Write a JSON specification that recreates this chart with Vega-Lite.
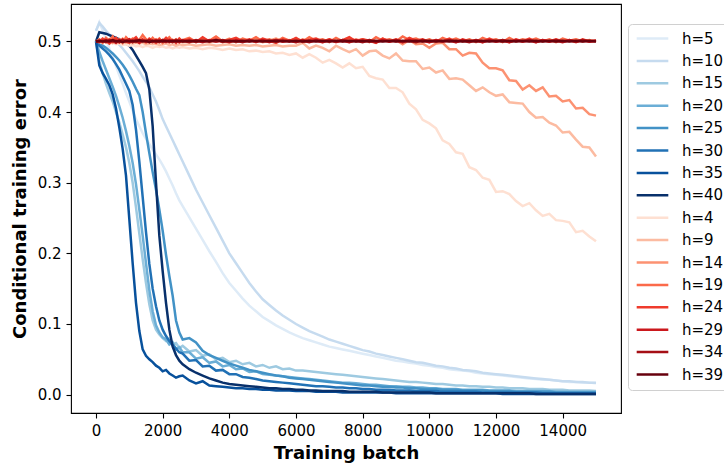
{
"$schema": "https://vega.github.io/schema/vega-lite/v6.json",
"width": 550, "height": 409,
"autosize": {"type": "none"},
"padding": {"left": 71, "top": 4, "right": 103, "bottom": 52},
"background": "white",
"data": {"values": [
{"x":0,"b05":0.515,"b10":0.515,"b15":0.5,"b20":0.5,"b25":0.5,"b30":0.5,"b35":0.5,"b40":0.5,"r04":0.5,"r09":0.5,"r14":0.5,"r19":0.5,"r24":0.5,"r29":0.5,"r34":0.5,"r39":0.5},
{"x":100,"b05":0.527,"b10":0.526,"b15":0.472,"b20":0.485,"b25":0.497,"b30":0.494,"b35":0.466,"b40":0.513,"r04":0.499,"r09":0.5,"r14":0.501,"r19":0.503,"r24":0.499,"r29":0.501,"r34":0.5,"r39":0.501},
{"x":200,"b05":0.516,"b10":0.521,"b15":0.455,"b20":0.472,"b25":0.494,"b30":0.49,"b35":0.455,"b40":0.512,"r04":0.498,"r09":0.499,"r14":0.502,"r19":0.498,"r24":0.504,"r29":0.5,"r34":0.501,"r39":0.5},
{"x":300,"b05":0.503,"b10":0.515,"b15":0.44,"b20":0.46,"b25":0.491,"b30":0.486,"b35":0.447,"b40":0.511,"r04":0.499,"r09":0.501,"r14":0.499,"r19":0.505,"r24":0.501,"r29":0.502,"r34":0.499,"r39":0.501},
{"x":400,"b05":0.49,"b10":0.51,"b15":0.427,"b20":0.448,"b25":0.487,"b30":0.481,"b35":0.438,"b40":0.509,"r04":0.497,"r09":0.5,"r14":0.503,"r19":0.501,"r24":0.497,"r29":0.499,"r34":0.502,"r39":0.5},
{"x":500,"b05":0.478,"b10":0.505,"b15":0.415,"b20":0.436,"b25":0.483,"b30":0.475,"b35":0.425,"b40":0.507,"r04":0.498,"r09":0.499,"r14":0.498,"r19":0.507,"r24":0.502,"r29":0.501,"r34":0.5,"r39":0.502},
{"x":600,"b05":0.465,"b10":0.5,"b15":0.4,"b20":0.423,"b25":0.478,"b30":0.468,"b35":0.405,"b40":0.505,"r04":0.496,"r09":0.5,"r14":0.501,"r19":0.499,"r24":0.505,"r29":0.498,"r34":0.501,"r39":0.5},
{"x":700,"b05":0.452,"b10":0.495,"b15":0.385,"b20":0.408,"b25":0.473,"b30":0.46,"b35":0.378,"b40":0.503,"r04":0.497,"r09":0.498,"r14":0.5,"r19":0.503,"r24":0.499,"r29":0.502,"r34":0.499,"r39":0.501},
{"x":800,"b05":0.44,"b10":0.49,"b15":0.368,"b20":0.392,"b25":0.467,"b30":0.45,"b35":0.348,"b40":0.5,"r04":0.495,"r09":0.499,"r14":0.504,"r19":0.498,"r24":0.503,"r29":0.5,"r34":0.502,"r39":0.499},
{"x":900,"b05":0.427,"b10":0.484,"b15":0.35,"b20":0.373,"b25":0.46,"b30":0.44,"b35":0.31,"b40":0.497,"r04":0.496,"r09":0.498,"r14":0.499,"r19":0.506,"r24":0.5,"r29":0.501,"r34":0.5,"r39":0.501},
{"x":1000,"b05":0.415,"b10":0.478,"b15":0.328,"b20":0.352,"b25":0.452,"b30":0.43,"b35":0.248,"b40":0.494,"r04":0.494,"r09":0.499,"r14":0.502,"r19":0.501,"r24":0.498,"r29":0.503,"r34":0.501,"r39":0.5},
{"x":1100,"b05":0.402,"b10":0.472,"b15":0.3,"b20":0.328,"b25":0.443,"b30":0.41,"b35":0.186,"b40":0.488,"r04":0.495,"r09":0.497,"r14":0.5,"r19":0.504,"r24":0.502,"r29":0.499,"r34":0.499,"r39":0.501},
{"x":1200,"b05":0.39,"b10":0.465,"b15":0.265,"b20":0.298,"b25":0.433,"b30":0.375,"b35":0.13,"b40":0.48,"r04":0.493,"r09":0.498,"r14":0.503,"r19":0.499,"r24":0.506,"r29":0.501,"r34":0.502,"r39":0.5},
{"x":1300,"b05":0.38,"b10":0.458,"b15":0.228,"b20":0.262,"b25":0.424,"b30":0.33,"b35":0.09,"b40":0.472,"r04":0.494,"r09":0.497,"r14":0.499,"r19":0.502,"r24":0.5,"r29":0.498,"r34":0.5,"r39":0.502},
{"x":1400,"b05":0.37,"b10":0.45,"b15":0.192,"b20":0.225,"b25":0.4,"b30":0.28,"b35":0.064,"b40":0.464,"r04":0.492,"r09":0.498,"r14":0.501,"r19":0.509,"r24":0.503,"r29":0.502,"r34":0.501,"r39":0.5},
{"x":1500,"b05":0.362,"b10":0.443,"b15":0.158,"b20":0.186,"b25":0.37,"b30":0.23,"b35":0.055,"b40":0.455,"r04":0.494,"r09":0.496,"r14":0.498,"r19":0.503,"r24":0.499,"r29":0.5,"r34":0.5,"r39":0.501},
{"x":1600,"b05":0.355,"b10":0.435,"b15":0.128,"b20":0.148,"b25":0.342,"b30":0.185,"b35":0.05,"b40":0.432,"r04":0.493,"r09":0.497,"r14":0.502,"r19":0.499,"r24":0.504,"r29":0.501,"r34":0.502,"r39":0.499},
{"x":1700,"b05":0.347,"b10":0.425,"b15":0.105,"b20":0.118,"b25":0.315,"b30":0.15,"b35":0.046,"b40":0.38,"r04":0.491,"r09":0.496,"r14":0.5,"r19":0.505,"r24":0.501,"r29":0.499,"r34":0.5,"r39":0.501},
{"x":1800,"b05":0.34,"b10":0.415,"b15":0.092,"b20":0.098,"b25":0.29,"b30":0.125,"b35":0.041,"b40":0.3,"r04":0.493,"r09":0.497,"r14":0.503,"r19":0.5,"r24":0.498,"r29":0.502,"r34":0.501,"r39":0.5},
{"x":1900,"b05":0.333,"b10":0.403,"b15":0.085,"b20":0.088,"b25":0.262,"b30":0.105,"b35":0.038,"b40":0.225,"r04":0.492,"r09":0.495,"r14":0.499,"r19":0.504,"r24":0.503,"r29":0.5,"r34":0.499,"r39":0.501},
{"x":2000,"b05":0.325,"b10":0.39,"b15":0.08,"b20":0.081,"b25":0.232,"b30":0.092,"b35":0.033,"b40":0.175,"r04":0.493,"r09":0.496,"r14":0.501,"r19":0.498,"r24":0.5,"r29":0.501,"r34":0.502,"r39":0.5},
{"x":2100,"b05":0.316,"b10":0.38,"b15":0.076,"b20":0.078,"b25":0.198,"b30":0.083,"b35":0.035,"b40":0.13,"r04":0.491,"r09":0.497,"r14":0.504,"r19":0.502,"r24":0.505,"r29":0.499,"r34":0.5,"r39":0.501},
{"x":2200,"b05":0.306,"b10":0.37,"b15":0.079,"b20":0.071,"b25":0.168,"b30":0.076,"b35":0.03,"b40":0.092,"r04":0.492,"r09":0.495,"r14":0.499,"r19":0.506,"r24":0.499,"r29":0.502,"r34":0.501,"r39":0.5},
{"x":2300,"b05":0.296,"b10":0.36,"b15":0.071,"b20":0.074,"b25":0.14,"b30":0.07,"b35":0.027,"b40":0.068,"r04":0.49,"r09":0.496,"r14":0.502,"r19":0.5,"r24":0.502,"r29":0.5,"r34":0.499,"r39":0.501},
{"x":2400,"b05":0.285,"b10":0.35,"b15":0.073,"b20":0.064,"b25":0.105,"b30":0.065,"b35":0.024,"b40":0.056,"r04":0.492,"r09":0.494,"r14":0.5,"r19":0.503,"r24":0.498,"r29":0.501,"r34":0.502,"r39":0.5},
{"x":2500,"b05":0.275,"b10":0.34,"b15":0.066,"b20":0.067,"b25":0.088,"b30":0.06,"b35":0.026,"b40":0.048,"r04":0.491,"r09":0.496,"r14":0.503,"r19":0.499,"r24":0.504,"r29":0.499,"r34":0.5,"r39":0.501},
{"x":2600,"b05":0.267,"b10":0.33,"b15":0.069,"b20":0.06,"b25":0.078,"b30":0.058,"b35":0.027,"b40":0.043,"r04":0.492,"r09":0.495,"r14":0.499,"r19":0.502,"r24":0.5,"r29":0.502,"r34":0.501,"r39":0.5},
{"x":2800,"b05":0.251,"b10":0.31,"b15":0.061,"b20":0.06,"b25":0.08,"b30":0.048,"b35":0.02,"b40":0.036,"r04":0.49,"r09":0.496,"r14":0.501,"r19":0.505,"r24":0.503,"r29":0.5,"r34":0.499,"r39":0.501},
{"x":3000,"b05":0.235,"b10":0.29,"b15":0.063,"b20":0.051,"b25":0.074,"b30":0.049,"b35":0.016,"b40":0.031,"r04":0.491,"r09":0.494,"r14":0.5,"r19":0.499,"r24":0.499,"r29":0.501,"r34":0.502,"r39":0.5},
{"x":3200,"b05":0.219,"b10":0.272,"b15":0.055,"b20":0.053,"b25":0.062,"b30":0.04,"b35":0.019,"b40":0.027,"r04":0.489,"r09":0.495,"r14":0.503,"r19":0.503,"r24":0.506,"r29":0.499,"r34":0.5,"r39":0.501},
{"x":3400,"b05":0.203,"b10":0.254,"b15":0.057,"b20":0.045,"b25":0.056,"b30":0.041,"b35":0.013,"b40":0.023,"r04":0.491,"r09":0.496,"r14":0.499,"r19":0.501,"r24":0.5,"r29":0.502,"r34":0.501,"r39":0.5},
{"x":3600,"b05":0.188,"b10":0.236,"b15":0.05,"b20":0.047,"b25":0.052,"b30":0.034,"b35":0.012,"b40":0.02,"r04":0.49,"r09":0.494,"r14":0.502,"r19":0.507,"r24":0.503,"r29":0.5,"r34":0.5,"r39":0.502},
{"x":3800,"b05":0.172,"b10":0.218,"b15":0.052,"b20":0.04,"b25":0.048,"b30":0.035,"b35":0.011,"b40":0.017,"r04":0.488,"r09":0.495,"r14":0.5,"r19":0.5,"r24":0.499,"r29":0.501,"r34":0.502,"r39":0.5},
{"x":4000,"b05":0.158,"b10":0.2,"b15":0.046,"b20":0.042,"b25":0.044,"b30":0.029,"b35":0.01,"b40":0.015,"r04":0.49,"r09":0.496,"r14":0.504,"r19":0.503,"r24":0.502,"r29":0.499,"r34":0.5,"r39":0.501},
{"x":4200,"b05":0.147,"b10":0.186,"b15":0.048,"b20":0.036,"b25":0.041,"b30":0.029,"b35":0.009,"b40":0.014,"r04":0.488,"r09":0.494,"r14":0.499,"r19":0.499,"r24":0.505,"r29":0.502,"r34":0.501,"r39":0.5},
{"x":4400,"b05":0.136,"b10":0.172,"b15":0.043,"b20":0.037,"b25":0.038,"b30":0.025,"b35":0.009,"b40":0.013,"r04":0.489,"r09":0.495,"r14":0.502,"r19":0.504,"r24":0.5,"r29":0.5,"r34":0.499,"r39":0.501},
{"x":4600,"b05":0.126,"b10":0.158,"b15":0.045,"b20":0.032,"b25":0.035,"b30":0.024,"b35":0.008,"b40":0.012,"r04":0.486,"r09":0.494,"r14":0.5,"r19":0.501,"r24":0.503,"r29":0.501,"r34":0.502,"r39":0.5},
{"x":4800,"b05":0.118,"b10":0.146,"b15":0.04,"b20":0.033,"b25":0.033,"b30":0.022,"b35":0.008,"b40":0.011,"r04":0.487,"r09":0.495,"r14":0.503,"r19":0.506,"r24":0.499,"r29":0.5,"r34":0.5,"r39":0.501},
{"x":5000,"b05":0.11,"b10":0.135,"b15":0.042,"b20":0.029,"b25":0.031,"b30":0.02,"b35":0.007,"b40":0.01,"r04":0.485,"r09":0.493,"r14":0.499,"r19":0.5,"r24":0.504,"r29":0.502,"r34":0.501,"r39":0.5},
{"x":5200,"b05":0.104,"b10":0.127,"b15":0.038,"b20":0.028,"b25":0.029,"b30":0.019,"b35":0.007,"b40":0.009,"r04":0.486,"r09":0.494,"r14":0.501,"r19":0.503,"r24":0.501,"r29":0.499,"r34":0.5,"r39":0.501},
{"x":5400,"b05":0.098,"b10":0.119,"b15":0.04,"b20":0.027,"b25":0.027,"b30":0.018,"b35":0.006,"b40":0.009,"r04":0.483,"r09":0.495,"r14":0.504,"r19":0.499,"r24":0.498,"r29":0.502,"r34":0.502,"r39":0.5},
{"x":5600,"b05":0.093,"b10":0.112,"b15":0.036,"b20":0.026,"b25":0.026,"b30":0.017,"b35":0.006,"b40":0.008,"r04":0.484,"r09":0.493,"r14":0.5,"r19":0.505,"r24":0.503,"r29":0.5,"r34":0.5,"r39":0.501},
{"x":5800,"b05":0.088,"b10":0.106,"b15":0.037,"b20":0.025,"b25":0.024,"b30":0.016,"b35":0.006,"b40":0.008,"r04":0.481,"r09":0.494,"r14":0.502,"r19":0.501,"r24":0.5,"r29":0.501,"r34":0.501,"r39":0.5},
{"x":6000,"b05":0.084,"b10":0.1,"b15":0.034,"b20":0.024,"b25":0.023,"b30":0.015,"b35":0.005,"b40":0.007,"r04":0.483,"r09":0.494,"r14":0.499,"r19":0.504,"r24":0.505,"r29":0.499,"r34":0.5,"r39":0.501},
{"x":6200,"b05":0.08,"b10":0.095,"b15":0.034,"b20":0.023,"b25":0.022,"b30":0.014,"b35":0.005,"b40":0.007,"r04":0.477,"r09":0.498,"r14":0.503,"r19":0.5,"r24":0.499,"r29":0.502,"r34":0.501,"r39":0.5},
{"x":6400,"b05":0.077,"b10":0.09,"b15":0.033,"b20":0.022,"b25":0.021,"b30":0.013,"b35":0.005,"b40":0.006,"r04":0.482,"r09":0.49,"r14":0.5,"r19":0.506,"r24":0.502,"r29":0.5,"r34":0.499,"r39":0.501},
{"x":6600,"b05":0.074,"b10":0.086,"b15":0.032,"b20":0.021,"b25":0.02,"b30":0.012,"b35":0.004,"b40":0.006,"r04":0.477,"r09":0.494,"r14":0.502,"r19":0.501,"r24":0.504,"r29":0.501,"r34":0.502,"r39":0.5},
{"x":6800,"b05":0.071,"b10":0.082,"b15":0.031,"b20":0.02,"b25":0.019,"b30":0.012,"b35":0.004,"b40":0.005,"r04":0.47,"r09":0.491,"r14":0.499,"r19":0.503,"r24":0.5,"r29":0.499,"r34":0.5,"r39":0.501},
{"x":7000,"b05":0.068,"b10":0.078,"b15":0.03,"b20":0.019,"b25":0.018,"b30":0.011,"b35":0.004,"b40":0.005,"r04":0.474,"r09":0.486,"r14":0.503,"r19":0.499,"r24":0.503,"r29":0.502,"r34":0.501,"r39":0.5},
{"x":7200,"b05":0.066,"b10":0.075,"b15":0.029,"b20":0.018,"b25":0.017,"b30":0.01,"b35":0.004,"b40":0.005,"r04":0.469,"r09":0.494,"r14":0.5,"r19":0.505,"r24":0.499,"r29":0.5,"r34":0.5,"r39":0.501},
{"x":7400,"b05":0.064,"b10":0.072,"b15":0.028,"b20":0.017,"b25":0.016,"b30":0.01,"b35":0.003,"b40":0.005,"r04":0.463,"r09":0.489,"r14":0.502,"r19":0.5,"r24":0.502,"r29":0.501,"r34":0.502,"r39":0.5},
{"x":7600,"b05":0.062,"b10":0.069,"b15":0.027,"b20":0.017,"b25":0.015,"b30":0.009,"b35":0.003,"b40":0.004,"r04":0.469,"r09":0.485,"r14":0.499,"r19":0.504,"r24":0.506,"r29":0.499,"r34":0.5,"r39":0.501},
{"x":7800,"b05":0.06,"b10":0.066,"b15":0.026,"b20":0.016,"b25":0.014,"b30":0.009,"b35":0.003,"b40":0.004,"r04":0.462,"r09":0.489,"r14":0.503,"r19":0.501,"r24":0.5,"r29":0.502,"r34":0.501,"r39":0.5},
{"x":8000,"b05":0.058,"b10":0.063,"b15":0.025,"b20":0.015,"b25":0.013,"b30":0.008,"b35":0.003,"b40":0.004,"r04":0.464,"r09":0.48,"r14":0.5,"r19":0.503,"r24":0.503,"r29":0.5,"r34":0.499,"r39":0.501},
{"x":8200,"b05":0.056,"b10":0.061,"b15":0.024,"b20":0.014,"b25":0.013,"b30":0.008,"b35":0.003,"b40":0.004,"r04":0.451,"r09":0.486,"r14":0.502,"r19":0.499,"r24":0.501,"r29":0.501,"r34":0.502,"r39":0.5},
{"x":8400,"b05":0.054,"b10":0.058,"b15":0.023,"b20":0.014,"b25":0.012,"b30":0.007,"b35":0.003,"b40":0.004,"r04":0.448,"r09":0.487,"r14":0.499,"r19":0.506,"r24":0.498,"r29":0.499,"r34":0.5,"r39":0.501},
{"x":8600,"b05":0.052,"b10":0.056,"b15":0.022,"b20":0.013,"b25":0.011,"b30":0.007,"b35":0.003,"b40":0.003,"r04":0.446,"r09":0.48,"r14":0.504,"r19":0.501,"r24":0.504,"r29":0.502,"r34":0.501,"r39":0.5},
{"x":8800,"b05":0.05,"b10":0.054,"b15":0.021,"b20":0.012,"b25":0.011,"b30":0.007,"b35":0.003,"b40":0.003,"r04":0.434,"r09":0.476,"r14":0.5,"r19":0.503,"r24":0.5,"r29":0.5,"r34":0.5,"r39":0.501},
{"x":9000,"b05":0.048,"b10":0.052,"b15":0.02,"b20":0.012,"b25":0.01,"b30":0.006,"b35":0.002,"b40":0.003,"r04":0.434,"r09":0.483,"r14":0.502,"r19":0.5,"r24":0.503,"r29":0.501,"r34":0.502,"r39":0.5},
{"x":9200,"b05":0.047,"b10":0.05,"b15":0.019,"b20":0.011,"b25":0.01,"b30":0.006,"b35":0.002,"b40":0.003,"r04":0.428,"r09":0.473,"r14":0.496,"r19":0.507,"r24":0.499,"r29":0.499,"r34":0.5,"r39":0.501},
{"x":9400,"b05":0.045,"b10":0.048,"b15":0.018,"b20":0.011,"b25":0.009,"b30":0.006,"b35":0.002,"b40":0.003,"r04":0.412,"r09":0.472,"r14":0.502,"r19":0.502,"r24":0.505,"r29":0.502,"r34":0.501,"r39":0.5},
{"x":9600,"b05":0.044,"b10":0.046,"b15":0.018,"b20":0.01,"b25":0.009,"b30":0.005,"b35":0.002,"b40":0.003,"r04":0.404,"r09":0.472,"r14":0.496,"r19":0.504,"r24":0.501,"r29":0.5,"r34":0.499,"r39":0.501},
{"x":9800,"b05":0.042,"b10":0.045,"b15":0.017,"b20":0.01,"b25":0.008,"b30":0.005,"b35":0.002,"b40":0.003,"r04":0.389,"r09":0.461,"r14":0.497,"r19":0.5,"r24":0.503,"r29":0.501,"r34":0.502,"r39":0.5},
{"x":10000,"b05":0.041,"b10":0.043,"b15":0.016,"b20":0.009,"b25":0.008,"b30":0.005,"b35":0.002,"b40":0.003,"r04":0.384,"r09":0.463,"r14":0.491,"r19":0.503,"r24":0.499,"r29":0.499,"r34":0.5,"r39":0.501},
{"x":10200,"b05":0.039,"b10":0.041,"b15":0.015,"b20":0.009,"b25":0.008,"b30":0.005,"b35":0.002,"b40":0.002,"r04":0.377,"r09":0.456,"r14":0.497,"r19":0.499,"r24":0.502,"r29":0.502,"r34":0.501,"r39":0.5},
{"x":10400,"b05":0.038,"b10":0.04,"b15":0.015,"b20":0.008,"b25":0.007,"b30":0.004,"b35":0.002,"b40":0.002,"r04":0.36,"r09":0.459,"r14":0.498,"r19":0.505,"r24":0.5,"r29":0.5,"r34":0.5,"r39":0.501},
{"x":10600,"b05":0.036,"b10":0.038,"b15":0.014,"b20":0.008,"b25":0.007,"b30":0.004,"b35":0.002,"b40":0.002,"r04":0.355,"r09":0.447,"r14":0.489,"r19":0.501,"r24":0.504,"r29":0.501,"r34":0.502,"r39":0.5},
{"x":10800,"b05":0.035,"b10":0.037,"b15":0.013,"b20":0.008,"b25":0.007,"b30":0.004,"b35":0.002,"b40":0.002,"r04":0.343,"r09":0.448,"r14":0.489,"r19":0.504,"r24":0.499,"r29":0.499,"r34":0.5,"r39":0.501},
{"x":11000,"b05":0.034,"b10":0.035,"b15":0.013,"b20":0.007,"b25":0.006,"b30":0.004,"b35":0.002,"b40":0.002,"r04":0.341,"r09":0.446,"r14":0.48,"r19":0.5,"r24":0.503,"r29":0.502,"r34":0.501,"r39":0.5},
{"x":11200,"b05":0.033,"b10":0.034,"b15":0.012,"b20":0.007,"b25":0.006,"b30":0.004,"b35":0.002,"b40":0.002,"r04":0.322,"r09":0.438,"r14":0.484,"r19":0.503,"r24":0.5,"r29":0.5,"r34":0.499,"r39":0.501},
{"x":11400,"b05":0.031,"b10":0.033,"b15":0.012,"b20":0.007,"b25":0.006,"b30":0.004,"b35":0.002,"b40":0.002,"r04":0.318,"r09":0.43,"r14":0.483,"r19":0.499,"r24":0.502,"r29":0.501,"r34":0.502,"r39":0.5},
{"x":11600,"b05":0.03,"b10":0.031,"b15":0.011,"b20":0.007,"b25":0.006,"b30":0.003,"b35":0.002,"b40":0.002,"r04":0.307,"r09":0.435,"r14":0.47,"r19":0.505,"r24":0.499,"r29":0.499,"r34":0.5,"r39":0.501},
{"x":11800,"b05":0.029,"b10":0.03,"b15":0.011,"b20":0.006,"b25":0.005,"b30":0.003,"b35":0.002,"b40":0.002,"r04":0.304,"r09":0.428,"r14":0.462,"r19":0.501,"r24":0.504,"r29":0.502,"r34":0.501,"r39":0.5},
{"x":12000,"b05":0.028,"b10":0.029,"b15":0.01,"b20":0.006,"b25":0.005,"b30":0.003,"b35":0.002,"b40":0.002,"r04":0.287,"r09":0.423,"r14":0.462,"r19":0.503,"r24":0.5,"r29":0.5,"r34":0.5,"r39":0.501},
{"x":12200,"b05":0.027,"b10":0.028,"b15":0.01,"b20":0.006,"b25":0.005,"b30":0.003,"b35":0.001,"b40":0.002,"r04":0.288,"r09":0.425,"r14":0.459,"r19":0.499,"r24":0.502,"r29":0.501,"r34":0.502,"r39":0.5},
{"x":12400,"b05":0.026,"b10":0.027,"b15":0.009,"b20":0.006,"b25":0.005,"b30":0.003,"b35":0.001,"b40":0.002,"r04":0.284,"r09":0.414,"r14":0.445,"r19":0.505,"r24":0.499,"r29":0.499,"r34":0.5,"r39":0.501},
{"x":12600,"b05":0.025,"b10":0.026,"b15":0.009,"b20":0.005,"b25":0.004,"b30":0.003,"b35":0.001,"b40":0.002,"r04":0.274,"r09":0.413,"r14":0.444,"r19":0.5,"r24":0.503,"r29":0.502,"r34":0.501,"r39":0.5},
{"x":12800,"b05":0.024,"b10":0.025,"b15":0.009,"b20":0.005,"b25":0.004,"b30":0.003,"b35":0.001,"b40":0.002,"r04":0.267,"r09":0.412,"r14":0.432,"r19":0.503,"r24":0.5,"r29":0.5,"r34":0.5,"r39":0.501},
{"x":13000,"b05":0.023,"b10":0.024,"b15":0.008,"b20":0.005,"b25":0.004,"b30":0.003,"b35":0.001,"b40":0.002,"r04":0.271,"r09":0.4,"r14":0.438,"r19":0.501,"r24":0.504,"r29":0.501,"r34":0.502,"r39":0.5},
{"x":13200,"b05":0.022,"b10":0.023,"b15":0.008,"b20":0.005,"b25":0.004,"b30":0.003,"b35":0.001,"b40":0.001,"r04":0.261,"r09":0.392,"r14":0.43,"r19":0.504,"r24":0.499,"r29":0.499,"r34":0.5,"r39":0.501},
{"x":13400,"b05":0.021,"b10":0.022,"b15":0.008,"b20":0.005,"b25":0.004,"b30":0.002,"b35":0.001,"b40":0.001,"r04":0.253,"r09":0.393,"r14":0.435,"r19":0.5,"r24":0.502,"r29":0.502,"r34":0.501,"r39":0.5},
{"x":13600,"b05":0.021,"b10":0.021,"b15":0.007,"b20":0.005,"b25":0.004,"b30":0.002,"b35":0.001,"b40":0.001,"r04":0.256,"r09":0.385,"r14":0.422,"r19":0.503,"r24":0.5,"r29":0.5,"r34":0.5,"r39":0.501},
{"x":13800,"b05":0.02,"b10":0.02,"b15":0.007,"b20":0.004,"b25":0.003,"b30":0.002,"b35":0.001,"b40":0.001,"r04":0.247,"r09":0.381,"r14":0.423,"r19":0.499,"r24":0.503,"r29":0.501,"r34":0.502,"r39":0.5},
{"x":14000,"b05":0.019,"b10":0.019,"b15":0.007,"b20":0.004,"b25":0.003,"b30":0.002,"b35":0.001,"b40":0.001,"r04":0.246,"r09":0.371,"r14":0.415,"r19":0.504,"r24":0.5,"r29":0.499,"r34":0.5,"r39":0.501},
{"x":14200,"b05":0.018,"b10":0.019,"b15":0.006,"b20":0.004,"b25":0.003,"b30":0.002,"b35":0.001,"b40":0.001,"r04":0.244,"r09":0.372,"r14":0.417,"r19":0.501,"r24":0.502,"r29":0.502,"r34":0.501,"r39":0.5},
{"x":14400,"b05":0.018,"b10":0.018,"b15":0.006,"b20":0.004,"b25":0.003,"b30":0.002,"b35":0.001,"b40":0.001,"r04":0.23,"r09":0.361,"r14":0.405,"r19":0.503,"r24":0.499,"r29":0.5,"r34":0.5,"r39":0.501},
{"x":14600,"b05":0.017,"b10":0.018,"b15":0.006,"b20":0.004,"b25":0.003,"b30":0.002,"b35":0.001,"b40":0.001,"r04":0.232,"r09":0.351,"r14":0.406,"r19":0.5,"r24":0.503,"r29":0.501,"r34":0.502,"r39":0.5},
{"x":14800,"b05":0.017,"b10":0.017,"b15":0.006,"b20":0.004,"b25":0.003,"b30":0.002,"b35":0.001,"b40":0.001,"r04":0.224,"r09":0.35,"r14":0.397,"r19":0.502,"r24":0.5,"r29":0.5,"r34":0.5,"r39":0.501},
{"x":15000,"b05":0.016,"b10":0.017,"b15":0.005,"b20":0.004,"b25":0.003,"b30":0.002,"b35":0.001,"b40":0.001,"r04":0.217,"r09":0.337,"r14":0.395,"r19":0.5,"r24":0.501,"r29":0.501,"r34":0.501,"r39":0.5}
]},
"transform": [{"fold": ["b05","b10","b15","b20","b25","b30","b35","b40","r04","r09","r14","r19","r24","r29","r34","r39"], "as": ["series", "error"]}],
"mark": {"type": "line", "strokeWidth": 2.5, "clip": true},
"encoding": {
  "x": {"field": "x", "type": "quantitative",
        "scale": {"domain": [-750, 15750], "nice": false, "zero": false},
        "axis": {"values": [0,2000,4000,6000,8000,10000,12000,14000], "format": "d", "title": "Training batch"}},
  "y": {"field": "error", "type": "quantitative",
        "scale": {"domain": [-0.026, 0.553], "nice": false, "zero": false},
        "axis": {"values": [0,0.1,0.2,0.3,0.4,0.5], "format": ".1f", "title": "Conditional training error"}},
  "color": {"field": "series", "type": "nominal",
        "scale": {"domain": ["b05","b10","b15","b20","b25","b30","b35","b40","r04","r09","r14","r19","r24","r29","r34","r39"],
                  "range": ["#deebf7","#c6dbef","#9ecae1","#6baed6","#4292c6","#2171b5","#08519c","#08306b","#fee0d2","#fcbba1","#fc9272","#fb6a4a","#ef3b2c","#cb181d","#a50f15","#67000d"]},
        "legend": {"orient": "none", "legendX": 557, "legendY": 20, "title": null,
                   "labelExpr": "'h=' + toNumber(slice(datum.label, 1))",
                   "symbolType": "stroke", "symbolSize": 1000, "symbolStrokeWidth": 2.5,
                   "labelFont": "DejaVu Sans", "labelFontSize": 15, "labelColor": "black",
                   "labelOffset": 12, "clipHeight": 15, "rowPadding": 6.4, "padding": 7,
                   "strokeColor": "#d0d0d0", "fillColor": "white", "cornerRadius": 4}}
},
"config": {
  "view": {"stroke": "black", "strokeWidth": 1.1},
  "axis": {"grid": false, "domain": false, "tickColor": "black", "tickSize": 5, "tickWidth": 1.1,
           "labelFont": "DejaVu Sans", "labelFontSize": 15, "labelColor": "black", "labelPadding": 5,
           "titleFont": "DejaVu Sans", "titleFontSize": 18, "titleFontWeight": "bold", "titleColor": "black"},
  "axisX": {"titlePadding": 6},
  "axisY": {"titlePadding": 8}
}
}
